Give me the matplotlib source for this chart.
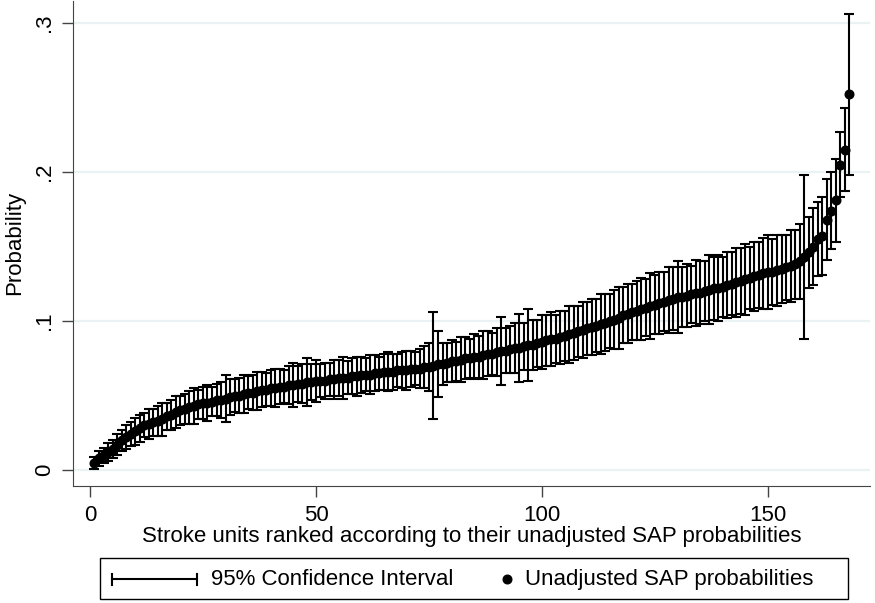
import matplotlib
matplotlib.use("Agg")
import matplotlib.pyplot as plt
from matplotlib.patches import Rectangle
from matplotlib.lines import Line2D
import numpy as np

plt.rcParams['font.family'] = ['Liberation Sans', 'DejaVu Sans']

# unadjusted SAP probability per stroke unit (ranked)
prob = [
    0.005, 0.008, 0.010, 0.012, 0.014, 0.017, 0.020, 0.022, 0.024, 0.026,
    0.028, 0.030, 0.031, 0.032, 0.033, 0.034, 0.036, 0.037, 0.039, 0.040,
    0.041, 0.042, 0.043, 0.044, 0.045, 0.045, 0.046, 0.047, 0.047, 0.048,
    0.049, 0.050, 0.050, 0.051, 0.052, 0.052, 0.053, 0.054, 0.054, 0.055,
    0.055, 0.056, 0.056, 0.057, 0.057, 0.058, 0.058, 0.059, 0.059, 0.060,
    0.060, 0.060, 0.061, 0.061, 0.062, 0.062, 0.062, 0.063, 0.063, 0.064,
    0.064, 0.064, 0.065, 0.065, 0.066, 0.066, 0.066, 0.067, 0.067, 0.067,
    0.068, 0.068, 0.068, 0.069, 0.069, 0.070, 0.071, 0.071, 0.072, 0.073,
    0.073, 0.074, 0.075, 0.075, 0.076, 0.076, 0.077, 0.078, 0.078, 0.079,
    0.080, 0.080, 0.081, 0.082, 0.082, 0.083, 0.084, 0.084, 0.085, 0.086,
    0.087, 0.088, 0.088, 0.089, 0.090, 0.091, 0.092, 0.093, 0.094, 0.095,
    0.096, 0.097, 0.098, 0.099, 0.100, 0.101, 0.102, 0.104, 0.105, 0.106,
    0.107, 0.108, 0.109, 0.110, 0.111, 0.112, 0.113, 0.114, 0.115, 0.116,
    0.116, 0.117, 0.118, 0.119, 0.119, 0.120, 0.121, 0.122, 0.122, 0.123,
    0.124, 0.125, 0.126, 0.127, 0.128, 0.129, 0.130, 0.131, 0.132, 0.133,
    0.133, 0.134, 0.135, 0.136, 0.137, 0.138, 0.140, 0.143, 0.146, 0.150,
    0.155, 0.157, 0.168, 0.174, 0.181, 0.205, 0.215, 0.252,
]

# half width of 95% CI
ci_half = [
    0.004, 0.005, 0.005, 0.006, 0.006, 0.007, 0.007, 0.008, 0.008, 0.009,
    0.009, 0.008, 0.010, 0.009, 0.010, 0.011, 0.009, 0.010, 0.011, 0.010,
    0.010, 0.011, 0.012, 0.010, 0.011, 0.012, 0.010, 0.011, 0.012, 0.016,
    0.012, 0.011, 0.012, 0.013, 0.011, 0.012, 0.013, 0.012, 0.011, 0.012,
    0.013, 0.012, 0.011, 0.013, 0.015, 0.012, 0.013, 0.016, 0.012, 0.014,
    0.011, 0.012, 0.011, 0.013, 0.012, 0.014, 0.011, 0.012, 0.013, 0.012,
    0.011, 0.013, 0.012, 0.011, 0.012, 0.013, 0.012, 0.011, 0.012, 0.013,
    0.012, 0.011, 0.013, 0.014, 0.016, 0.036, 0.022, 0.014, 0.013, 0.014,
    0.013, 0.015, 0.014, 0.013, 0.015, 0.014, 0.016, 0.015, 0.014, 0.016,
    0.023, 0.015, 0.016, 0.017, 0.023, 0.016, 0.024, 0.017, 0.016, 0.018,
    0.017, 0.018, 0.016, 0.018, 0.017, 0.019, 0.018, 0.017, 0.019, 0.018,
    0.019, 0.018, 0.020, 0.019, 0.018, 0.020, 0.021, 0.019, 0.020, 0.019,
    0.020, 0.021, 0.019, 0.022, 0.020, 0.021, 0.020, 0.022, 0.021, 0.024,
    0.020, 0.021, 0.019, 0.022, 0.021, 0.020, 0.023, 0.021, 0.022, 0.020,
    0.022, 0.021, 0.023, 0.022, 0.024, 0.021, 0.023, 0.022, 0.024, 0.025,
    0.022, 0.024, 0.023, 0.022, 0.024, 0.023, 0.025, 0.055, 0.024, 0.026,
    0.025, 0.026, 0.027, 0.026, 0.028, 0.022, 0.028, 0.054,
]

rank = np.arange(1, len(prob) + 1)
prob = np.array(prob)
ci_half = np.array(ci_half)

fig = plt.figure(figsize=(8.75, 6.03), dpi=100)
ax = fig.add_axes([0.0834, 0.194, 0.911, 0.805])

for yv in [0, 0.1, 0.2, 0.3]:
    ax.axhline(yv, color='#eaf2f3', lw=1.6, zorder=0)

ax.errorbar(rank, prob, yerr=ci_half, fmt='none', ecolor='black',
            elinewidth=1.5, capsize=3.8, capthick=1.5, zorder=2)
ax.plot(rank, prob, 'o', color='black', markersize=6.2, zorder=3)

ax.set_xlim(-3.76, 172.6)
ax.set_ylim(-0.0107, 0.315)
ax.set_xticks([0, 50, 100, 150])
ax.set_yticks([0, 0.1, 0.2, 0.3])
ax.set_yticklabels(['0', '.1', '.2', '.3'], rotation=90, va='center')
ax.tick_params(axis='both', direction='out', length=8, width=1, labelsize=16, color='#444444')
ax.tick_params(axis='x', pad=6)
ax.tick_params(axis='y', pad=5)
for s in ['top', 'right']:
    ax.spines[s].set_visible(False)
for s in ['left', 'bottom']:
    ax.spines[s].set_color('#444444')
ax.set_xlabel('Stroke units ranked according to their unadjusted SAP probabilities', fontsize=16, labelpad=0)
ax.set_ylabel('Probability', fontsize=16, labelpad=6)

# legend box drawn at the bottom
fig.patches.append(Rectangle((0.1143, 0.006), 0.855, 0.069, transform=fig.transFigure,
                             fill=False, edgecolor='black', lw=1))
ly = 0.0395
fig.lines.append(Line2D([0.128, 0.225], [ly, ly], transform=fig.transFigure, color='black', lw=1.5))
for cx in [0.128, 0.225]:
    fig.lines.append(Line2D([cx, cx], [ly - 0.009, ly + 0.009], transform=fig.transFigure, color='black', lw=1.5))
fig.text(0.241, ly, '95% Confidence Interval', fontsize=16, va='center')
fig.lines.append(Line2D([0.579], [ly], transform=fig.transFigure, marker='o', color='black', markersize=6.2))
fig.text(0.600, ly, 'Unadjusted SAP probabilities', fontsize=16, va='center')

fig.savefig('out.png', dpi=100)
